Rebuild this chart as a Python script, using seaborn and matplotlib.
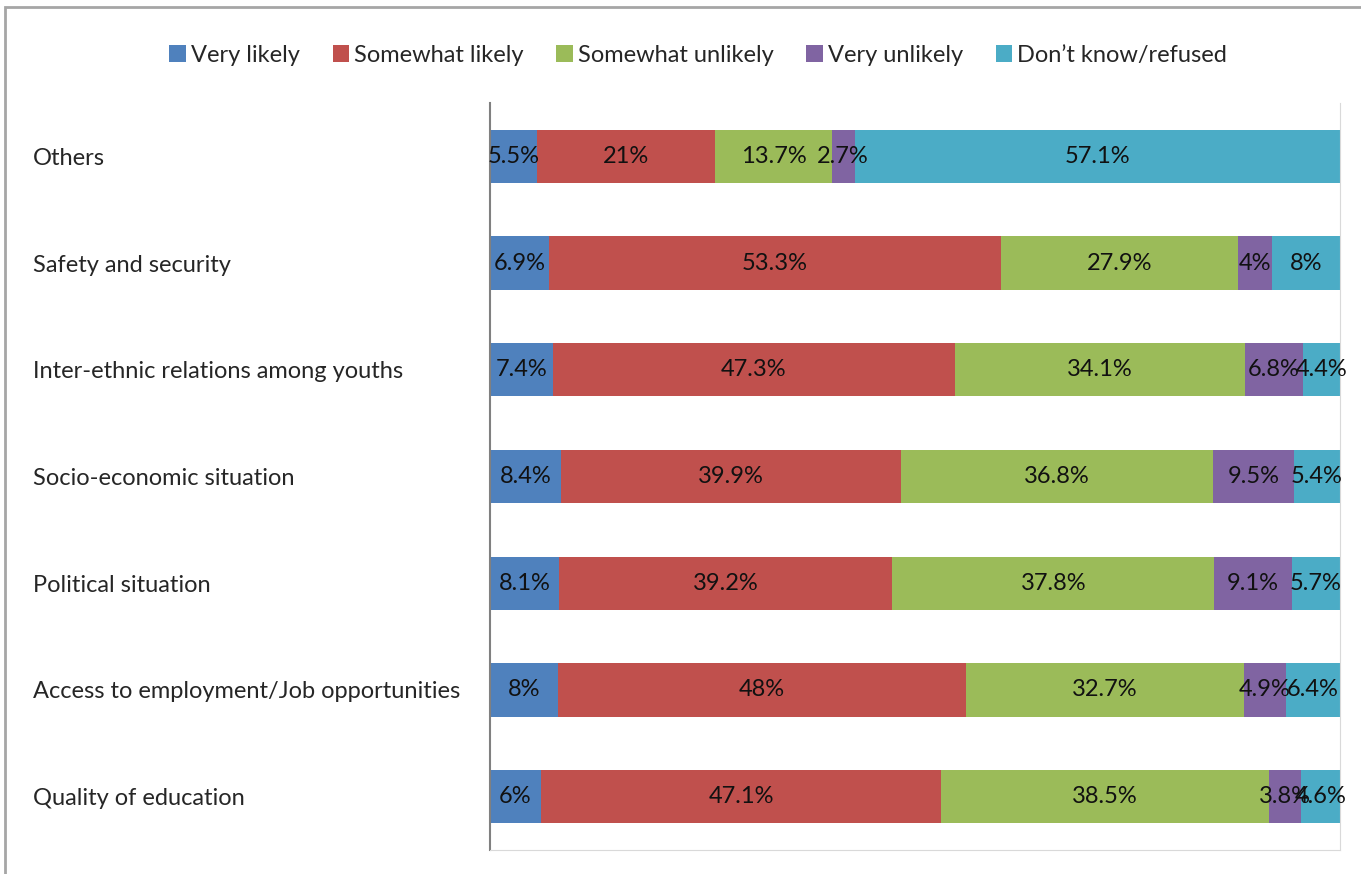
import numpy as np
import pandas as pd
import matplotlib
matplotlib.use("Agg")
import matplotlib.pyplot as plt
from matplotlib.patches import Patch, Rectangle
import seaborn as sns

categories = ['Others', 'Safety and security', 'Inter-ethnic relations among youths',
              'Socio-economic situation', 'Political situation',
              'Access to employment/Job opportunities', 'Quality of education']
very_likely = [5.5, 6.9, 7.4, 8.4, 8.1, 8.0, 6.0]
somewhat_likely = [21.0, 53.3, 47.3, 39.9, 39.2, 48.0, 47.1]
somewhat_unlikely = [13.7, 27.9, 34.1, 36.8, 37.8, 32.7, 38.5]
very_unlikely = [2.7, 4.0, 6.8, 9.5, 9.1, 4.9, 3.8]
dont_know = [57.1, 8.0, 4.4, 5.4, 5.7, 6.4, 4.6]

series_names = ['Very likely', 'Somewhat likely', 'Somewhat unlikely', 'Very unlikely', 'Don\u2019t know/refused']
colors = ['#4F81BD', '#C0504D', '#9BBB59', '#8064A2', '#4BACC6']

sns.set_style('white')
plt.rcParams['font.family'] = ['Lato', 'DejaVu Sans']
fs = 17

vals = np.array([very_likely, somewhat_likely, somewhat_unlikely, very_unlikely, dont_know])
# 100% stacked: normalise each row
shares = vals / vals.sum(axis=0) * 100
cum = np.cumsum(shares, axis=0)

fig = plt.figure(figsize=(13.61, 8.74), dpi=100)
ax = fig.add_axes([490 / 1361, 1 - 850 / 874, 850 / 1361, 747 / 874])

# draw cumulative bars from the longest to the shortest so they look stacked
for i in range(len(series_names) - 1, -1, -1):
    df = pd.DataFrame({'cat': categories, 'val': cum[i]})
    sns.barplot(data=df, x='val', y='cat', orient='h', color=colors[i],
                width=0.5, errorbar=None, linewidth=0, saturation=1, ax=ax)

# value labels centred in each segment
for i in range(len(series_names)):
    for j in range(len(categories)):
        start = cum[i][j] - shares[i][j]
        lab = f'{vals[i][j]:g}%'
        ax.text(start + shares[i][j] / 2, j, lab, ha='center', va='center',
                fontsize=fs, color='#111111', clip_on=False)

ax.set_xlim(0, 100)
ax.set_ylim(6.5, -0.5)
ax.set_xlabel('')
ax.set_ylabel('')
ax.set_xticks([])
ax.tick_params(axis='y', length=0, pad=329, labelsize=fs)
for t in ax.get_yticklabels():
    t.set_ha('left')

ax.spines['top'].set_visible(False)
ax.spines['left'].set_color('#808080')
ax.spines['left'].set_linewidth(1.5)
ax.spines['right'].set_color('#D9D9D9')
ax.spines['bottom'].set_color('#D9D9D9')

handles = [Patch(facecolor=c, edgecolor='none') for c in colors]
fig.legend(handles, series_names, loc='center', bbox_to_anchor=(0.513, 0.937),
           ncol=5, frameon=False, fontsize=fs, handlelength=0.7, handleheight=0.7,
           handletextpad=0.2, columnspacing=1.4)

fig.patches.append(Rectangle((5 / 1361, -0.05), 1.2, 1.05 - 7 / 874, transform=fig.transFigure,
                             fill=False, edgecolor='#A6A6A6', linewidth=2))

fig.savefig('out.png', dpi=100)
